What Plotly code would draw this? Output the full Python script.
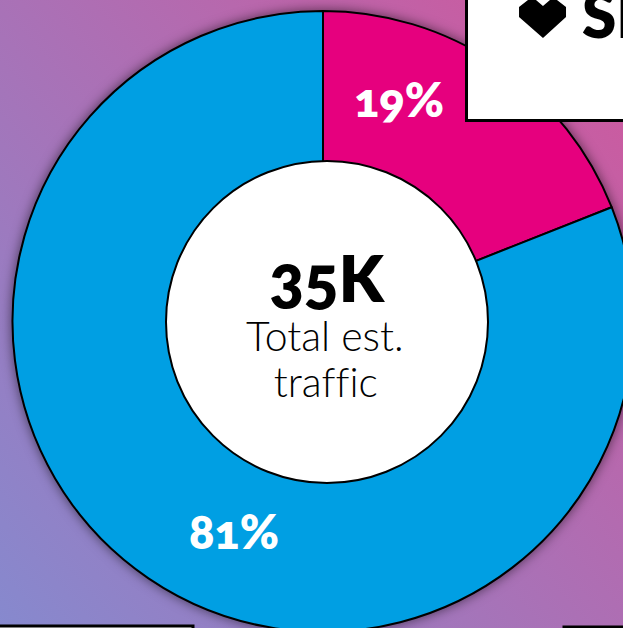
import plotly.graph_objects as go
from urllib.parse import quote

# Traffic split shown in the donut
segments = ["Share A", "Share B"]
shares = [19, 81]
segment_colors = ["#E6007E", "#009FE3"]
total_label = "35K"
caption_lines = ["Total est.", "traffic"]

FIG = 660  # canvas is larger than the viewport, the ring runs off the bottom edge
CX, CY, R = 323, 321.5, 310.5
DISC_X, DISC_Y, DISC_R = 327, 322, 161


def px(x):
    return x / FIG


def py(y):
    return 1 - y / FIG


backdrop = (
    "<svg xmlns='http://www.w3.org/2000/svg' width='623' height='628'>"
    "<defs><linearGradient id='g' x1='0' y1='1' x2='1' y2='0.12'>"
    "<stop offset='0' stop-color='#8689CE'/>"
    "<stop offset='1' stop-color='#CC5A9F'/>"
    "</linearGradient></defs>"
    "<rect width='623' height='628' fill='url(#g)'/></svg>"
)

fig = go.Figure(
    go.Pie(
        labels=segments,
        values=shares,
        marker=dict(colors=segment_colors, line=dict(color="black", width=2)),
        hole=0.45,  # the white disc sits off-centre and covers the hole completely
        sort=False,
        direction="clockwise",
        rotation=0,
        textinfo="none",
        hoverinfo="label+percent",
        showlegend=False,
        domain=dict(x=[px(CX - R), px(CX + R)], y=[py(CY + R), py(CY - R)]),
    )
)

shapes = [
    dict(type="circle", xref="paper", yref="paper",
         x0=px(DISC_X - DISC_R), x1=px(DISC_X + DISC_R),
         y0=py(DISC_Y + DISC_R), y1=py(DISC_Y - DISC_R),
         fillcolor="white", line=dict(color="black", width=2), layer="above"),
    # neighbouring cards that overlap the corners
    dict(type="rect", xref="paper", yref="paper",
         x0=px(466.5), x1=px(700), y0=py(120.5), y1=py(-10),
         fillcolor="white", line=dict(color="black", width=3), layer="above"),
    dict(type="rect", xref="paper", yref="paper",
         x0=px(-10), x1=px(193), y0=py(680), y1=py(626),
         fillcolor="white", line=dict(color="black", width=3), layer="above"),
    dict(type="rect", xref="paper", yref="paper",
         x0=px(564), x1=px(700), y0=py(680), y1=py(627),
         fillcolor="white", line=dict(color="black", width=3), layer="above"),
]

# Heart logo on the top-right card
heart = [(519, 7), (528, 0), (536, 0), (543, 6), (550, 0), (557, 0), (566, 7),
         (566, 17), (543, 38), (519, 17)]
path = "M " + " L ".join(f"{px(x):.4f},{py(y):.4f}" for x, y in heart) + " Z"
shapes.append(dict(type="path", xref="paper", yref="paper", path=path,
                   fillcolor="black", line=dict(width=0), layer="above"))


def note(text, x, y, size, weight, color="black", anchor="center"):
    return dict(text=text, x=px(x), y=py(y), xref="paper", yref="paper",
                xanchor=anchor, yanchor="middle", showarrow=False,
                font=dict(family="Lato", size=size, color=color, weight=weight))


annotations = [
    note(f"{shares[0]}%", 399, 99, 47, 800, "white"),
    note(f"{shares[1]}%", 234, 531, 47, 800, "white"),
    note(total_label, 327, 278, 64, 800),
    note(caption_lines[0], 325, 336, 41, 300),
    note(caption_lines[1], 326, 382, 41, 300),
    note("SI", 580, 14, 62, 800, anchor="left"),
]

fig.update_layout(
    width=FIG,
    height=FIG,
    margin=dict(l=0, r=0, t=0, b=0),
    paper_bgcolor="rgba(0,0,0,0)",
    plot_bgcolor="rgba(0,0,0,0)",
    shapes=shapes,
    annotations=annotations,
    images=[dict(source="data:image/svg+xml," + quote(backdrop), xref="paper", yref="paper",
                 x=0, y=1, sizex=623 / FIG, sizey=628 / FIG, sizing="stretch",
                 xanchor="left", yanchor="top", layer="below")],
)

page_css = (
    "html,body{overflow:hidden;margin:0;}"
    ".pielayer{filter:drop-shadow(0 0 6px rgba(0,0,0,.55));}"
    ".annotation-text{font-variant-numeric:oldstyle-nums;font-feature-settings:'onum','liga' 0;"
    "font-variant-ligatures:none;}"
)
post = (
    "var s=document.createElement('style');"
    f"s.textContent={page_css!r};"
    "document.head.appendChild(s);"
)
fig.write_html("out.html", post_script=post, config={"displayModeBar": False})
